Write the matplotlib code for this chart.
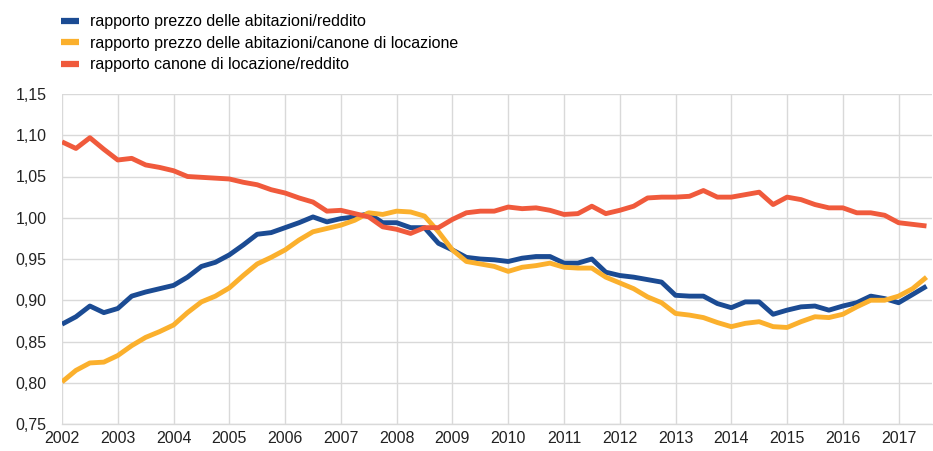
import matplotlib
matplotlib.use("Agg")
import matplotlib.pyplot as plt
import numpy as np

plt.rcParams['font.family'] = ['Liberation Sans', 'DejaVu Sans']

years = [2002 + 0.25 * i for i in range(63)]

prezzo_reddito = [
    0.871, 0.880, 0.893, 0.885, 0.890, 0.905, 0.910, 0.914, 0.918, 0.928,
    0.941, 0.946, 0.955, 0.967, 0.980, 0.982, 0.988, 0.994, 1.001,
    0.995, 0.999, 1.001, 1.005, 0.994, 0.994, 0.988, 0.988, 0.969, 0.961,
    0.952, 0.950, 0.949, 0.947, 0.951, 0.953, 0.953, 0.945, 0.945, 0.950, 0.934,
    0.930, 0.928, 0.925, 0.922, 0.906, 0.905, 0.905, 0.896, 0.891, 0.898,
    0.898, 0.883, 0.888, 0.892, 0.893, 0.888, 0.893, 0.897, 0.905, 0.902,
    0.897, 0.907, 0.917,
]

prezzo_canone = [
    0.801, 0.815, 0.824, 0.825, 0.833, 0.845, 0.855, 0.862, 0.870, 0.885,
    0.898, 0.905, 0.915, 0.930, 0.944, 0.952, 0.961, 0.973, 0.983,
    0.987, 0.991, 0.997, 1.006, 1.004, 1.008, 1.007, 1.002, 0.983, 0.961,
    0.947, 0.944, 0.941, 0.935, 0.940, 0.942, 0.945, 0.940, 0.939, 0.939, 0.928,
    0.921, 0.914, 0.904, 0.897, 0.884, 0.882, 0.879, 0.873, 0.868, 0.872,
    0.874, 0.868, 0.867, 0.874, 0.880, 0.879, 0.883, 0.892, 0.900, 0.900,
    0.905, 0.914, 0.928,
]

canone_reddito = [
    1.092, 1.084, 1.097, 1.083, 1.070, 1.072, 1.064, 1.061, 1.057, 1.050,
    1.049, 1.048, 1.047, 1.043, 1.040, 1.034, 1.030, 1.024, 1.019,
    1.008, 1.009, 1.005, 1.001, 0.989, 0.986, 0.981, 0.988, 0.988, 0.998,
    1.006, 1.008, 1.008, 1.013, 1.011, 1.012, 1.009, 1.004, 1.005, 1.014, 1.005,
    1.009, 1.014, 1.024, 1.025, 1.025, 1.026, 1.033, 1.025, 1.025, 1.028,
    1.031, 1.016, 1.025, 1.022, 1.016, 1.012, 1.012, 1.006, 1.006, 1.003,
    0.994, 0.992, 0.990,
]

labels = [
    "rapporto prezzo delle abitazioni/reddito",
    "rapporto prezzo delle abitazioni/canone di locazione",
    "rapporto canone di locazione/reddito",
]
colors = ["#1B4B93", "#FBB02D", "#F05A3C"]

x_ticks = list(range(2002, 2018))
y_ticks = [0.75, 0.80, 0.85, 0.90, 0.95, 1.00, 1.05, 1.10, 1.15]

fig = plt.figure(figsize=(9.33, 4.51), dpi=100)
ax = fig.add_axes([62 / 933, 27 / 451, 1 - 62 / 933 - 0.001, 330 / 451])

for series, lab, col in zip([prezzo_reddito, prezzo_canone, canone_reddito], labels, colors):
    ax.plot(years, series, color=col, lw=3.5, label=lab, solid_capstyle='butt', solid_joinstyle='round')

ax.set_xlim(2002, 2017.6)
ax.set_ylim(0.75, 1.15)
ax.set_xticks(x_ticks)
ax.set_xticklabels([str(y) for y in x_ticks])
ax.set_yticks(y_ticks)
ax.set_yticklabels([f"{v:.2f}".replace('.', ',') for v in y_ticks])
ax.tick_params(axis='both', length=0, labelsize=11.5, colors='#222222')
ax.tick_params(axis='y', pad=11)
ax.tick_params(axis='x', pad=5)
ax.grid(True, color='#d9d9d9', lw=1)
ax.set_axisbelow(True)
for s in ['top', 'right', 'left']:
    ax.spines[s].set_visible(False)
ax.spines['bottom'].set_color('#d9d9d9')
ax.spines['bottom'].set_linewidth(1)

handles, labs = ax.get_legend_handles_labels()
leg = fig.legend(handles, labs, loc='upper left', bbox_to_anchor=(55 / 933, 1 - 8 / 451),
                 frameon=False, fontsize=11.5, handlelength=1.1, handletextpad=0.7,
                 labelspacing=0.4, borderaxespad=0)
for h in leg.get_lines():
    h.set_linewidth(4.5)

fig.savefig("out.png", dpi=100)
